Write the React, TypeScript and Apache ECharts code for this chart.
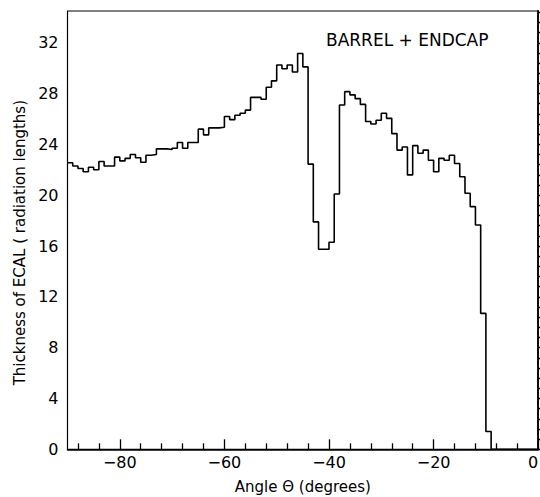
import React, { useEffect, useRef } from "react";
import * as echarts from "echarts";

// Histogram bins: 1 degree wide, starting at -90 degrees
const binStart = -90;
const binWidth = 1;
// Thickness of ECAL (radiation lengths), one value per bin from -90 to -1 degrees
const thickness = [
  22.55, 22.3, 22.1, 21.85, 22.2, 22.0, 22.65, 22.3, 22.3, 23.0,
  22.7, 22.9, 23.2, 22.95, 22.6, 23.15, 23.2, 23.65, 23.65, 23.6,
  23.7, 24.15, 23.7, 24.15, 24.15, 25.2, 24.75, 25.3, 25.3, 25.35,
  26.2, 25.95, 26.3, 26.45, 26.7, 27.7, 27.7, 27.55, 28.5, 29.0,
  30.25, 29.95, 30.25, 29.7, 31.15, 30.1, 22.45, 17.9, 15.75, 15.75,
  16.3, 20.1, 27.1, 28.15, 27.9, 27.6, 27.15, 25.8, 25.6, 25.9,
  26.45, 26.05, 24.85, 23.55, 23.8, 21.6, 23.9, 23.3, 23.55, 22.75,
  21.85, 22.9, 22.75, 23.15, 22.5, 21.45, 20.15, 19.1, 17.65, 10.7,
  1.4, 0, 0, 0, 0, 0, 0, 0, 0, 0,
];

const xMajorTicks = [-80, -60, -40, -20, 0];
const yMajorTicks = [0, 4, 8, 12, 16, 20, 24, 28, 32];
const xMin = -90;
const xMax = 0;
const yMin = 0;
const yMax = 34.5;
const xMinorStep = 4;
const yMinorStep = 0.8;

const xTitle = "Angle Θ (degrees)";
const yTitle = "Thickness of ECAL ( radiation lengths)";
const annotation = "BARREL + ENDCAP";

const FONT = "DejaVu Sans";

export default function App() {
  const ref = useRef<HTMLDivElement>(null);

  useEffect(() => {
    if (!ref.current) return;
    const chart = echarts.init(ref.current, null, { renderer: "svg" });

    const points: number[][] = thickness.map((v, i) => [binStart + i * binWidth, v]);
    points.push([binStart + thickness.length * binWidth, thickness[thickness.length - 1]]);

    const xMinor: number[] = [];
    for (let v = xMin + 2; v < xMax; v += xMinorStep) {
      if (!xMajorTicks.includes(v)) xMinor.push(v);
    }
    const yMinor: number[] = [];
    for (let k = 1; k * yMinorStep <= yMax; k++) {
      if (k % 5 !== 0) yMinor.push(+(k * yMinorStep).toFixed(2));
    }

    const fmt = (v: number) => (v < 0 ? "\u2212" + Math.abs(v) : String(v));

    chart.setOption({
      animation: false,
      backgroundColor: "#fff",
      grid: {
        left: 67.5,
        right: 1.8,
        top: 11,
        bottom: 47.7,
        show: true,
        borderColor: "#000",
        borderWidth: 1.2,
        outerBoundsMode: "none",
        containLabel: false,
      },
      xAxis: [
        {
          type: "value",
          min: xMin,
          max: xMax,
          position: "bottom",
          splitLine: { show: false },
          axisLine: { show: true, lineStyle: { color: "#000", width: 1.5 } },
          axisTick: {
            show: true,
            inside: true,
            length: 10,
            customValues: xMajorTicks,
            lineStyle: { color: "#000", width: 1.3 },
          },
          axisLabel: {
            customValues: xMajorTicks,
            formatter: fmt,
            color: "#000",
            fontFamily: FONT,
            fontSize: 16,
            margin: 5,
            hideOverlap: false,
            alignMaxLabel: "right",
          },
          name: xTitle,
          nameLocation: "middle",
          nameGap: 30,
          nameTextStyle: { color: "#000", fontFamily: FONT, fontSize: 15 },
        },
        {
          type: "value",
          min: xMin,
          max: xMax,
          position: "bottom",
          splitLine: { show: false },
          axisLine: { show: false },
          axisTick: {
            show: true,
            inside: true,
            length: 6,
            customValues: xMinor,
            lineStyle: { color: "#000", width: 1.3 },
          },
          axisLabel: { show: false },
        },
      ],
      yAxis: [
        {
          type: "value",
          min: yMin,
          max: yMax,
          position: "left",
          splitLine: { show: false },
          axisLine: { show: true, lineStyle: { color: "#000", width: 1.8 } },
          axisTick: {
            show: true,
            inside: true,
            length: 11,
            customValues: yMajorTicks,
            lineStyle: { color: "#000", width: 1.3 },
          },
          axisLabel: {
            customValues: yMajorTicks,
            color: "#000",
            fontFamily: FONT,
            fontSize: 16,
            margin: 9,
          },
          name: yTitle,
          nameLocation: "middle",
          nameRotate: 90,
          nameGap: 40,
          nameTextStyle: {
            color: "#000",
            fontFamily: FONT,
            fontSize: 15,
            padding: [0, 25, 0, 0],
          },
        },
        {
          type: "value",
          min: yMin,
          max: yMax,
          position: "left",
          splitLine: { show: false },
          axisLine: { show: false },
          axisTick: {
            show: true,
            inside: true,
            length: 6,
            customValues: yMinor,
            lineStyle: { color: "#000", width: 1.3 },
          },
          axisLabel: { show: false },
        },
      ],
      graphic: [
        {
          type: "text",
          left: 326,
          top: 31,
          style: {
            text: annotation,
            fill: "#000",
            font: `17px '${FONT}'`,
          },
        },
      ],
      series: [
        {
          type: "line",
          xAxisIndex: 0,
          yAxisIndex: 0,
          step: "end",
          symbol: "none",
          data: points,
          lineStyle: { color: "#000", width: 1.6 },
        },
      ],
    });

    return () => chart.dispose();
  }, []);

  return (
    <div
      ref={ref}
      style={{ position: "fixed", left: 0, top: 0, width: 540, height: 497 }}
    />
  );
}
